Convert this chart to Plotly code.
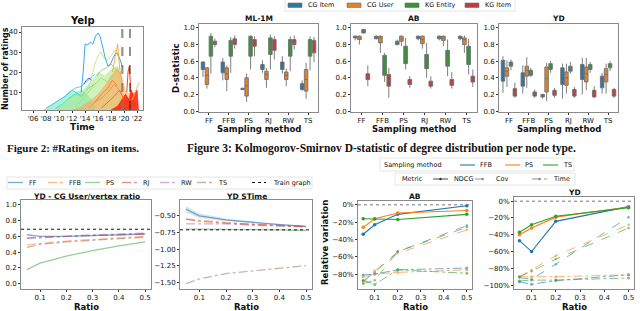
import plotly.graph_objects as go

W, H = 640, 311
def X(p): return p / W
def Y(p): return 1 - p / H

FONT = "DejaVu Sans"
SERIF = "Liberation Serif"

# ---------------- DATA ----------------
# Figure 2 (Yelp): ratings per item over time
yelp_ticks = [2006, 2008, 2010, 2012, 2014, 2016, 2018, 2020, 2022]
yelp_ticktext = ["'06", "'08", "'10", "'12", "'14", "'16", "'18", "'20", "'22"]
covid_lines = [2019.65, 2019.8, 2020.9]

band_cyan_t = [2007.6, 2008.5, 2009.5, 2010.5, 2011.5, 2012.5, 2013.5, 2014.5, 2015.5]
band_cyan_n = [1.1, 2.5, 5, 7, 10, 10, 11, 8, 4]
band_green_t = [2009, 2010, 2011, 2012, 2013, 2014, 2015, 2016, 2017, 2018, 2019, 2019.8]
band_green_n = [1.1, 3, 5, 8, 9, 12, 15, 20, 18, 21, 23, 12]
band_orange_t = [2012, 2013, 2014, 2015, 2016, 2017, 2018, 2019, 2019.6, 2020.2, 2021, 2021.8]
band_orange_n = [1.1, 2, 4, 6, 9, 13, 18, 22, 18, 10, 9, 3]
band_red_t = [2018, 2019, 2019.8, 2020.2, 2020.8, 2021.0, 2021.4, 2022, 2022.2]
band_red_n = [1.1, 3, 7, 9, 6, 11, 9, 11, 1.1]

blue_t = [2013.4, 2013.7, 2014.0, 2014.4, 2014.8, 2015.2, 2015.6, 2016.0, 2016.3, 2016.7, 2017.1, 2017.5, 2017.9, 2018.3, 2018.7, 2019.0, 2019.4, 2019.8]
blue_n = [10, 20, 34, 33.5, 35, 34, 38, 39.5, 38, 32, 27, 23, 24, 27, 29.5, 29, 26, 22]
ygreen_t = [2014.0, 2014.8, 2015.5, 2016.0, 2016.4, 2016.9, 2017.4, 2018.0, 2018.6, 2019.0, 2019.5]
ygreen_n = [10, 15, 24, 28, 30, 27, 26, 28, 31, 29, 25]
dblue_t = [2013.8, 2014.2, 2014.6, 2015.0]
dblue_n = [14, 16, 17, 16]
cyan_t = [2011.5, 2012.5, 2013.5, 2014.5, 2015.5]
cyan_n = [10, 12, 13, 16, 19]
lgreen_t = [2015.8, 2016.5, 2017.2, 2018.0, 2018.8, 2019.5]
lgreen_n = [18, 21, 22, 24, 21, 19]
orange_t = [2018.2, 2018.7, 2019.0, 2019.3, 2019.7]
orange_n = [20, 30, 34, 22, 15]
red_t = [2020.4, 2020.6, 2020.8, 2021.0, 2021.3]
red_n = [10, 20, 23, 12, 8]
lorange_t = [2021.2, 2021.6, 2022.0, 2022.3]
lorange_n = [6, 9, 12, 15]
orange2_t = [2015.5, 2016.5, 2017.5, 2018.2, 2019.0]
orange2_n = [5, 9, 12, 16, 13]
teal_t = [2008.0, 2009.0, 2010.0, 2011.0, 2012.0, 2013.0]
teal_n = [2, 4, 6, 8, 11, 9]
aqua_t = [2009.5, 2010.5, 2011.5, 2012.5, 2013.5, 2014.5, 2015.5]
aqua_n = [2, 4, 7, 9, 8, 12, 14]
lime_t = [2012.5, 2013.5, 2014.5, 2015.5, 2016.5, 2017.5, 2018.5]
lime_n = [3, 6, 10, 14, 17, 15, 19]
salmon_t = [2014.5, 2015.5, 2016.5, 2017.5, 2018.5, 2019.5]
salmon_n = [2, 5, 7, 10, 14, 10]
tomato_t = [2016.5, 2017.5, 2018.5, 2019.3, 2020.0]
tomato_n = [2, 5, 8, 11, 6]

# Figure 3: D-statistic boxes [low, q1, median, q3, high] per sampling method
methods = ["FF", "FFB", "PS", "RJ", "RW", "TS"]
node_types = ["CG Item", "CG User", "KG Entity", "KG Item"]
box_colors = ["#3274a1", "#e1812c", "#3a923a", "#c03d3e"]

ml1m_cg_item = [[0.41,0.50,0.55,0.59,0.60],[0.37,0.46,0.53,0.59,0.64],[0.25,0.26,0.265,0.275,0.28],[0.46,0.50,0.53,0.56,0.61],[0.45,0.50,0.56,0.59,0.66],[0.24,0.26,0.30,0.33,0.37]]
ml1m_cg_user = [[0.27,0.32,0.43,0.52,0.53],[0.24,0.38,0.45,0.52,0.55],[0.11,0.18,0.30,0.40,0.45],[0.28,0.38,0.44,0.48,0.52],[0.30,0.38,0.43,0.47,0.51],[0.15,0.24,0.38,0.50,0.58]]
ml1m_kg_entity = [[0.45,0.66,0.76,0.90,0.94],[0.46,0.66,0.76,0.85,0.89],[0.50,0.66,0.80,0.90,0.91],[0.50,0.68,0.80,0.88,0.92],[0.48,0.66,0.80,0.86,0.90],[0.49,0.66,0.78,0.86,0.90]]
ml1m_kg_item = [[0.77,0.80,0.82,0.84,0.87],[0.75,0.80,0.84,0.87,0.91],[0.66,0.78,0.82,0.86,0.90],[0.62,0.73,0.79,0.86,0.90],[0.74,0.80,0.82,0.86,0.91],[0.59,0.70,0.80,0.85,0.89]]

ab_cg_item = [[0.85,0.88,0.89,0.90,0.91],[0.86,0.87,0.89,0.90,0.91],[0.79,0.80,0.82,0.84,0.86],[0.85,0.87,0.89,0.90,0.91],[0.85,0.87,0.89,0.90,0.91],[0.85,0.87,0.89,0.90,0.91]]
ab_cg_user = [[0.80,0.86,0.88,0.90,0.91],[0.70,0.82,0.88,0.90,0.91],[0.78,0.84,0.87,0.90,0.91],[0.75,0.81,0.86,0.90,0.91],[0.78,0.85,0.88,0.90,0.91],[0.70,0.80,0.86,0.88,0.91]]
ab_kg_entity = [[0.93,0.94,0.96,0.98,0.99],[0.35,0.43,0.53,0.67,0.70],[0.50,0.57,0.65,0.78,0.88],[0.40,0.51,0.59,0.68,0.82],[0.42,0.54,0.64,0.73,0.86],[0.44,0.56,0.65,0.78,0.87]]
ab_kg_item = [[0.30,0.38,0.41,0.45,0.55],[0.16,0.30,0.37,0.44,0.52],[0.28,0.32,0.35,0.38,0.42],[0.27,0.30,0.33,0.36,0.42],[0.27,0.31,0.34,0.38,0.47],[0.29,0.35,0.38,0.42,0.50]]

yd_cg_item = [[0.22,0.36,0.53,0.61,0.66],[0.21,0.30,0.38,0.46,0.55],[0.15,0.17,0.18,0.20,0.21],[0.15,0.32,0.45,0.52,0.57],[0.20,0.38,0.47,0.56,0.64],[0.21,0.28,0.35,0.42,0.46]]
yd_cg_user = [[0.29,0.42,0.48,0.52,0.61],[0.28,0.42,0.49,0.54,0.65],[0.12,0.23,0.39,0.53,0.58],[0.21,0.31,0.40,0.47,0.57],[0.25,0.35,0.45,0.53,0.64],[0.21,0.35,0.44,0.51,0.57]]
yd_kg_entity = [[0.49,0.54,0.56,0.59,0.62],[0.41,0.43,0.45,0.49,0.52],[0.46,0.50,0.53,0.57,0.60],[0.45,0.48,0.51,0.54,0.59],[0.46,0.50,0.53,0.56,0.59],[0.48,0.52,0.55,0.57,0.60]]
yd_kg_item = [[0.16,0.18,0.22,0.27,0.34],[0.16,0.18,0.20,0.23,0.26],[0.16,0.19,0.22,0.25,0.28],[0.16,0.18,0.22,0.26,0.29],[0.16,0.17,0.21,0.25,0.30],[0.16,0.18,0.21,0.26,0.28]]

# Bottom-left: YD CG User/vertex ratio and STime vs sampling ratio
ratios = [0.05, 0.1, 0.2, 0.3, 0.4, 0.5]
samplers = ["FF", "FFB", "PS", "RJ", "RW", "TS"]
sampler_colors = ["rgba(31,119,180,0.6)", "rgba(255,127,14,0.5)", "rgba(44,160,44,0.5)",
                  "rgba(214,39,40,0.5)", "rgba(148,103,189,0.5)", "rgba(140,86,75,0.45)"]
sampler_dash = ["solid", "dashdot", "solid", "dashdot", "dashdot", "dashdot"]
user_ratio_ff = [0.62, 0.60, 0.60, 0.61, 0.62, 0.63]
user_ratio_ffb = [0.49, 0.51, 0.54, 0.56, 0.58, 0.60]
user_ratio_ps = [0.18, 0.26, 0.35, 0.42, 0.48, 0.53]
user_ratio_rj = [0.58, 0.59, 0.60, 0.61, 0.62, 0.63]
user_ratio_rw = [0.57, 0.58, 0.60, 0.62, 0.63, 0.64]
user_ratio_ts = [0.46, 0.50, 0.53, 0.55, 0.57, 0.59]
train_user_ratio = 0.69
stime_ff = [-0.40, -0.50, -0.56, -0.60, -0.63, -0.66]
stime_ff_lo = [-0.45, -0.53, -0.58, -0.61, -0.64, -0.67]
stime_ff_hi = [-0.35, -0.46, -0.54, -0.59, -0.62, -0.65]
stime_ffb = [-0.55, -0.57, -0.60, -0.63, -0.65, -0.67]
stime_ps = [-0.70, -0.70, -0.70, -0.71, -0.71, -0.72]
stime_rj = [-0.55, -0.58, -0.61, -0.63, -0.65, -0.66]
stime_rw = [-0.62, -0.62, -0.62, -0.64, -0.65, -0.66]
stime_ts = [-1.52, -1.45, -1.37, -1.33, -1.29, -1.25]
train_stime = -0.71

# Bottom-right: relative variation of metrics
rv_ratios = [0.05, 0.1, 0.2, 0.5]
rv_samplers = ["FFB", "PS", "TS"]
rv_colors = ["#1f77b4", "#ff7f0e", "#2ca02c"]
ab_ndcg = {"FFB": [-0.34, -0.23, -0.11, -0.01], "PS": [-0.26, -0.16, -0.095, -0.065], "TS": [-0.16, -0.165, -0.17, -0.11]}
ab_cov = {"FFB": [-0.88, -0.78, -0.54, -0.24], "PS": [-0.90, -0.76, -0.56, -0.29], "TS": [-0.91, -0.87, -0.54, -0.26]}
ab_time = {"FFB": [-0.81, -0.80, -0.75, -0.73], "PS": [-0.83, -0.80, -0.78, -0.75], "TS": [-0.87, -0.92, -0.75, -0.79]}
yd_ndcg = {"FFB": [-0.47, -0.60, -0.24, -0.065], "PS": [-0.40, -0.32, -0.19, -0.07], "TS": [-0.37, -0.28, -0.18, -0.077]}
yd_cov = {"FFB": [-0.91, -0.93, -0.75, -0.19], "PS": [-0.90, -0.82, -0.65, -0.28], "TS": [-0.90, -0.835, -0.69, -0.32]}
yd_time = {"FFB": [-0.96, -0.99, -0.946, -0.877], "PS": [-0.90, -0.90, -0.90, -0.877], "TS": [-0.95, -0.94, -0.94, -0.915]}

# ---------------- FIGURE ----------------
fig = go.Figure()
shapes, annos = [], []

def txt(px, py, s, size=7, bold=False, xanchor="center", yanchor="middle", angle=0, family=FONT, color="#111"):
    annos.append(dict(x=X(px), y=Y(py), xref="paper", yref="paper", text=("<b>%s</b>" % s) if bold else s,
                      showarrow=False, xanchor=xanchor, yanchor=yanchor, textangle=angle,
                      font=dict(family=family, size=size, color=color)))

def axis_common(x0, x1, y0, y1):
    ax = dict(showline=True, mirror=True, linecolor="#8a8a8a", linewidth=1, ticks="outside", ticklen=2,
              tickwidth=0.8, tickcolor="#333", showgrid=False, zeroline=False, tickangle=0,
              automargin=False, tickfont=dict(family=FONT, size=7, color="#111"))
    xa = dict(ax, domain=[X(x0), X(x1)])
    ya = dict(ax, domain=[Y(y1), Y(y0)])
    return xa, ya

lay = {}
# 1 Yelp
xa, ya = axis_common(22, 143, 27, 110)
xa.update(range=[2004.3, 2022.9], tickvals=yelp_ticks, ticktext=yelp_ticktext, anchor="y")
ya.update(range=[1.1, 42.5], tickvals=[10, 20, 30, 40], anchor="x")
lay["xaxis"], lay["yaxis"] = xa, ya

for t, n, c in [(band_cyan_t, band_cyan_n, "rgba(64,224,200,0.45)"), (band_green_t, band_green_n, "rgba(170,230,130,0.55)"),
                (band_orange_t, band_orange_n, "rgba(255,160,80,0.55)"), (band_red_t, band_red_n, "rgba(255,30,0,0.85)")]:
    fig.add_trace(go.Scatter(x=t, y=n, mode="lines", line=dict(color=c, width=0.8), fill="tozeroy",
                             fillcolor=c, xaxis="x", yaxis="y", showlegend=False))
for t, n, c in [(teal_t, teal_n, "#30c8c0"), (aqua_t, aqua_n, "#50e0b0"), (lime_t, lime_n, "#a0e070"),
                (salmon_t, salmon_n, "#ff8a50"), (tomato_t, tomato_n, "#ff5a30"),
                (cyan_t, cyan_n, "#40d0e0"), (lgreen_t, lgreen_n, "#8fd86a"), (ygreen_t, ygreen_n, "#c8e078"),
                (orange2_t, orange2_n, "#ff7a30"),
                (blue_t, blue_n, "#1ea0f0"), (dblue_t, dblue_n, "#3050ff"), (orange_t, orange_n, "#ffa040"),
                (red_t, red_n, "#ff2a00"), (lorange_t, lorange_n, "#ffb060")]:
    fig.add_trace(go.Scatter(x=t, y=n, mode="lines", line=dict(color=c, width=0.9), xaxis="x", yaxis="y", showlegend=False))
for i, v in enumerate(covid_lines):
    shapes.append(dict(type="line", xref="x", yref="y domain", x0=v, x1=v, y0=0, y1=1,
                       line=dict(color="#777" if i < 2 else "#222", width=1, dash="dash")))
txt(82, 21, "Yelp", 10, True)
txt(82, 126.5, "Time", 9, True)
txt(5, 69, "Number of ratings", 8, True, angle=-90)

# 2-4 box panels
box_sets = [
    ("ML-1M", [ml1m_cg_item, ml1m_cg_user, ml1m_kg_entity, ml1m_kg_item], (199, 318)),
    ("AB", [ab_cg_item, ab_cg_user, ab_kg_entity, ab_kg_item], (351, 477)),
    ("YD", [yd_cg_item, yd_cg_user, yd_kg_entity, yd_kg_item], (499, 618)),
]
for k, (name, sets, (x0, x1)) in enumerate(box_sets):
    idx = k + 2
    xa, ya = axis_common(x0, x1, 24, 111.5)
    xa.update(type="category", categoryorder="array", categoryarray=methods, range=[-0.5, 5.5], anchor="y%d" % idx)
    ya.update(range=[-0.005, 1.047], tickvals=[0, 0.2, 0.4, 0.6, 0.8, 1.0], tickformat=".1f", anchor="x%d" % idx)
    lay["xaxis%d" % idx], lay["yaxis%d" % idx] = xa, ya
    for j, st in enumerate(sets):
        fig.add_trace(go.Box(x=methods, lowerfence=[s[0] for s in st], q1=[s[1] for s in st],
                             median=[s[2] for s in st], q3=[s[3] for s in st], upperfence=[s[4] for s in st],
                             fillcolor=box_colors[j], line=dict(color="#707070", width=0.9), whiskerwidth=0,
                             offsetgroup=str(j), alignmentgroup="g%d" % idx, name=node_types[j],
                             xaxis="x%d" % idx, yaxis="y%d" % idx, showlegend=False, boxpoints=False))
    txt((x0 + x1) / 2, 18.5, name, 7.5, True)
    txt((x0 + x1) / 2, 128.5, "Sampling method", 8.5, True)
txt(176, 68, "D-statistic", 8.5, True, angle=-90)

# box legend
shapes.append(dict(type="rect", xref="paper", yref="paper", x0=X(285), x1=X(515), y0=Y(11), y1=Y(-2),
                   line=dict(color="#dddddd", width=0.8), fillcolor="white"))
for j, (lx, nm) in enumerate(zip([288, 347, 405, 465], node_types)):
    shapes.append(dict(type="rect", xref="paper", yref="paper", x0=X(lx), x1=X(lx + 14), y0=Y(7.5), y1=Y(3),
                       line=dict(color="#707070", width=0.6), fillcolor=box_colors[j]))
    txt(lx + 18, 5.2, nm, 6.5, xanchor="left")

# captions
txt(5, 148, "Figure 2: #Ratings on items.", 11, True, xanchor="left", family=SERIF)
txt(185, 148, "Figure 3: Kolmogorov-Smirnov D-statistic of degree distribution per node type.", 11.5, True,
    xanchor="left", family=SERIF)

# 5-6 bottom-left line panels
ur = [user_ratio_ff, user_ratio_ffb, user_ratio_ps, user_ratio_rj, user_ratio_rw, user_ratio_ts]
stv = [stime_ff, stime_ffb, stime_ps, stime_rj, stime_rw, stime_ts]
panels = [("YD - CG User/vertex ratio", ur, train_user_ratio, (21, 151), [-0.06, 1.06],
           [0, 0.2, 0.4, 0.6, 0.8, 1.0], ".1f"),
          ("YD STime", stv, train_stime, (180, 312), [-1.595, -0.26],
           [-1.5, -1.25, -1.0, -0.75, -0.5], ".2f")]
for k, (title, series, train, (x0, x1), yr, yt, yf) in enumerate(panels):
    idx = k + 5
    xa, ya = axis_common(x0, x1, 200, 288.5)
    xa.update(range=[0.0275, 0.5225], tickvals=[0.1, 0.2, 0.3, 0.4, 0.5], tickformat=".1f", anchor="y%d" % idx)
    ya.update(range=yr, tickvals=yt, tickformat=yf, anchor="x%d" % idx)
    lay["xaxis%d" % idx], lay["yaxis%d" % idx] = xa, ya
    if k == 1:
        fig.add_trace(go.Scatter(x=ratios + ratios[::-1], y=stime_ff_hi + stime_ff_lo[::-1], fill="toself",
                                 fillcolor="rgba(31,119,180,0.18)", line=dict(width=0), mode="lines",
                                 xaxis="x%d" % idx, yaxis="y%d" % idx, showlegend=False))
    for s, c, d, v in zip(samplers, sampler_colors, sampler_dash, series):
        fig.add_trace(go.Scatter(x=ratios, y=v, mode="lines", line=dict(color=c, width=1.3, dash=d),
                                 xaxis="x%d" % idx, yaxis="y%d" % idx, showlegend=False))
    shapes.append(dict(type="line", xref="x%d domain" % idx, yref="y%d" % idx, x0=0, x1=1, y0=train, y1=train,
                       line=dict(color="#111", width=1, dash="dot")))
    txt((x0 + x1) / 2, 196.5, title, 7.5, True)
    txt((x0 + x1) / 2, 306.5, "Ratio", 8.5, True)

# bottom-left legend
shapes.append(dict(type="rect", xref="paper", yref="paper", x0=X(7), x1=X(312), y0=Y(189), y1=Y(177),
                   line=dict(color="#e0e0e0", width=0.8), fillcolor="rgba(0,0,0,0)"))
leg_x = [8, 48, 85, 122, 160, 197]
for s, c, d, lx in zip(samplers, sampler_colors, sampler_dash, leg_x):
    shapes.append(dict(type="line", xref="paper", yref="paper", x0=X(lx), x1=X(lx + 15), y0=Y(182.5), y1=Y(182.5),
                       line=dict(color=c, width=1.3, dash=d)))
    txt(lx + 19, 182.5, s, 6.5, xanchor="left")
shapes.append(dict(type="line", xref="paper", yref="paper", x0=X(252), x1=X(266), y0=Y(182.5), y1=Y(182.5),
                   line=dict(color="#111", width=1, dash="dot")))
txt(271, 182.5, "Train graph", 6.5, xanchor="left")

# 7-8 bottom-right relative variation panels
rpanels = [("AB", ab_ndcg, ab_cov, ab_time, (358, 472), (200.5, 288.5), [-0.966, 0.05],
            [-0.8, -0.6, -0.4, -0.2, 0]),
           ("YD", yd_ndcg, yd_cov, yd_time, (514, 634), (197, 288.5), [-1.04, 0.05],
            [-1.0, -0.8, -0.6, -0.4, -0.2, 0])]
for k, (title, nd, cv, tm, (x0, x1), (y0, y1), yr, yt) in enumerate(rpanels):
    idx = k + 7
    xa, ya = axis_common(x0, x1, y0, y1)
    xa.update(range=[0.0275, 0.5225], tickvals=[0.1, 0.2, 0.3, 0.4, 0.5], tickformat=".1f", anchor="y%d" % idx)
    ya.update(range=yr, tickvals=yt, tickformat=".0%", anchor="x%d" % idx)
    lay["xaxis%d" % idx], lay["yaxis%d" % idx] = xa, ya
    shapes.append(dict(type="line", xref="x%d domain" % idx, yref="y%d" % idx, x0=0, x1=1, y0=0, y1=0,
                       line=dict(color="#777", width=1, dash="dot")))
    for s, c in zip(rv_samplers, rv_colors):
        fig.add_trace(go.Scatter(x=rv_ratios, y=tm[s], mode="lines+markers", opacity=0.6,
                                 line=dict(color=c, width=1, dash="dashdot"), marker=dict(size=3, color=c),
                                 xaxis="x%d" % idx, yaxis="y%d" % idx, showlegend=False))
        fig.add_trace(go.Scatter(x=rv_ratios, y=cv[s], mode="lines+markers", opacity=0.6,
                                 line=dict(color=c, width=1, dash="dash"), marker=dict(size=2.5, color=c),
                                 xaxis="x%d" % idx, yaxis="y%d" % idx, showlegend=False))
        fig.add_trace(go.Scatter(x=rv_ratios, y=nd[s], mode="lines+markers",
                                 line=dict(color=c, width=1.1), marker=dict(size=3.5, color=c),
                                 xaxis="x%d" % idx, yaxis="y%d" % idx, showlegend=False))
    txt((x0 + x1) / 2, y0 - 4.5, title, 7.5, True)
    txt((x0 + x1) / 2, 306.5, "Ratio", 8.5, True)
txt(325, 243, "Relative variation", 8.5, True, angle=-90)

# bottom-right legends
shapes.append(dict(type="rect", xref="paper", yref="paper", x0=X(380), x1=X(574), y0=Y(171), y1=Y(158),
                   line=dict(color="#e0e0e0", width=0.8), fillcolor="rgba(0,0,0,0)"))
txt(382, 165, "Sampling method", 6.5, xanchor="left")
for s, c, lx in zip(rv_samplers, rv_colors, [460, 505, 543]):
    shapes.append(dict(type="line", xref="paper", yref="paper", x0=X(lx), x1=X(lx + 15), y0=Y(165), y1=Y(165),
                       line=dict(color=c, width=1.1)))
    txt(lx + 18, 165, s, 6.5, xanchor="left")
shapes.append(dict(type="rect", xref="paper", yref="paper", x0=X(395), x1=X(575), y0=Y(185), y1=Y(173),
                   line=dict(color="#e0e0e0", width=0.8), fillcolor="white"))
txt(400, 179, "Metric", 6.5, xanchor="left")
for nm, d, lx in zip(["NDCG", "Cov", "Time"], ["solid", "dash", "dashdot"], [433, 475, 532]):
    shapes.append(dict(type="line", xref="paper", yref="paper", x0=X(lx), x1=X(lx + 15), y0=Y(179), y1=Y(179),
                       line=dict(color="#333" if d == "solid" else "#888", width=0.9, dash=d)))
    shapes.append(dict(type="circle", xref="paper", yref="paper", x0=X(lx + 6.3), x1=X(lx + 8.7),
                       y0=Y(180.2), y1=Y(177.8), line=dict(width=0),
                       fillcolor="#333" if d == "solid" else "#888"))
    txt(lx + 19, 179, nm, 6.5, xanchor="left")

fig.update_layout(width=W, height=H, margin=dict(l=0, r=0, t=0, b=0), paper_bgcolor="white",
                  plot_bgcolor="white", boxmode="group", boxgap=0.2, boxgroupgap=0.12,
                  shapes=shapes, annotations=annos, showlegend=False, **lay)
fig.write_html("out.html", config={"displayModeBar": False},
               post_script="document.body.style.margin='0';document.body.style.overflow='hidden';")
